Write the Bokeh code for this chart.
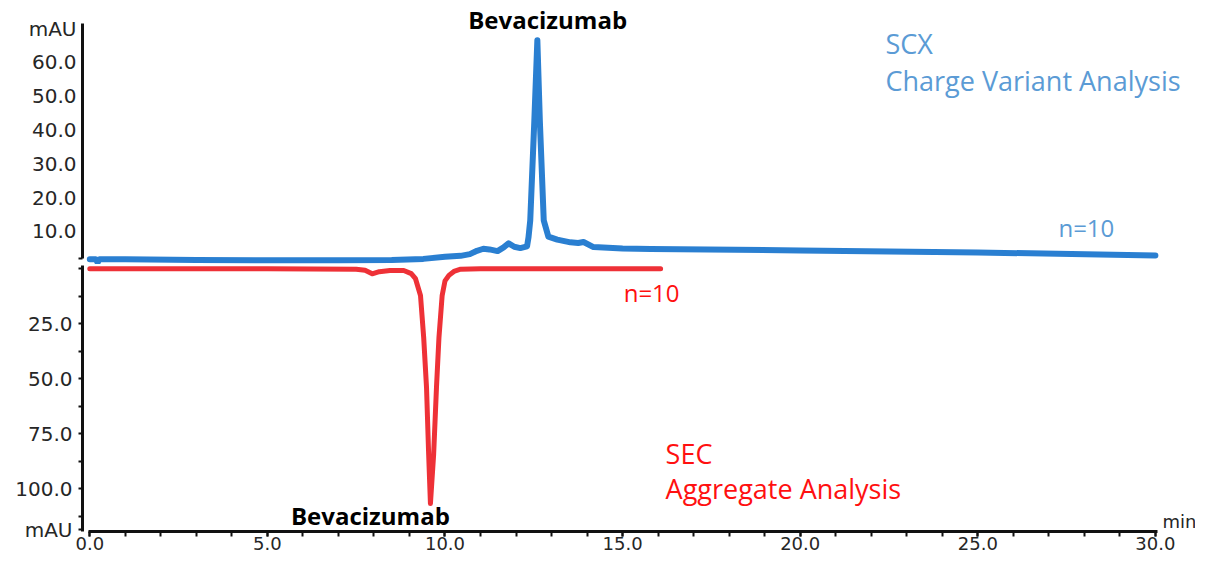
from bokeh.plotting import figure
from bokeh.models import Range1d, LinearAxis, FixedTicker, Label
from bokeh.layouts import column
from bokeh.embed import file_html
from bokeh.resources import INLINE

# ---- data ----
# SCX (top trace), time in min, signal in mAU
scx_time = [0.0, 0.17, 0.22, 0.27, 1.0, 3.0, 5.0, 7.0, 8.5, 9.39, 10.0, 10.44, 10.7, 10.9,
            11.08, 11.25, 11.48, 11.65, 11.79, 11.95, 12.12, 12.31, 12.35, 12.40, 12.515,
            12.60, 12.67, 12.78, 12.91, 13.16, 13.53, 13.75, 13.9, 14.18,
            15.0, 15.79, 20.0, 25.0, 30.0]
scx_mau = [1.8, 1.8, 0.8, 1.8, 1.8, 1.6, 1.5, 1.5, 1.6, 1.9, 2.5, 2.8, 3.3, 4.3,
           4.9, 4.7, 4.2, 5.3, 6.5, 5.5, 5.1, 5.6, 8.2, 13.3, 42.8,
           66.6, 42.8, 13.3, 8.5, 7.6, 6.8, 6.6, 6.9, 5.4,
           5.0, 4.8, 4.4, 3.8, 2.9]

# SEC (bottom trace, drawn downward), time in min, signal in mAU
sec_time = [0.0, 5.0, 7.5, 7.75, 7.95, 8.15, 8.45, 8.84, 9.05, 9.17, 9.31, 9.40, 9.48,
            9.54, 9.59, 9.68, 9.76, 9.83, 9.92, 10.0, 10.11, 10.25, 10.44, 11.0, 16.07]
sec_mau = [0.0, 0.0, 0.2, 0.7, 2.3, 1.3, 0.8, 0.8, 2.2, 4.5, 12.1, 31.2, 54.0,
           84.4, 106.7, 84.4, 54.0, 31.2, 12.1, 5.5, 3.0, 1.2, 0.2, 0.0, 0.0]

x_ticks = [0, 5, 10, 15, 20, 25, 30]
x_tick_labels = ["0.0", "5.0", "10.0", "15.0", "20.0", "25.0", "30.0"]
scx_ticks = [10, 20, 30, 40, 50, 60]
scx_tick_labels = ["10.0", "20.0", "30.0", "40.0", "50.0", "60.0"]
sec_ticks = [25, 50, 75, 100]
sec_tick_labels = ["25.0", "50.0", "75.0", "100.0"]

BLUE_LINE = "#2a7fd1"
RED_LINE = "#ee3137"
BLUE_TEXT = "#5b9bd5"
RED_TEXT = "#ff1010"
AX_COL = "#111111"
LBL_COL = "#262626"
TICK_FONT = "DejaVu Sans"
TEXT_FONT = "Open Sans"

W = 1195
xr = Range1d(-0.2055, 31.129)

# ---------------- top figure (SCX) ----------------
top = figure(width=W, height=264, x_range=xr, y_range=Range1d(0.237, 78.34),
             x_axis_type=None, y_axis_type=None, output_backend="svg",
             toolbar_location=None, min_border_left=82, min_border_right=0,
             min_border_top=0, min_border_bottom=0)
top.outline_line_color = None
top.background_fill_color = "white"

top_mau_pos = 69.8
ov = {t: s for t, s in zip(scx_ticks, scx_tick_labels)}
ov[top_mau_pos] = "mAU"
yax_top = LinearAxis(ticker=FixedTicker(ticks=scx_ticks + [top_mau_pos], minor_ticks=[2.0]),
                     major_label_overrides=ov, bounds=(2.0, 71.5),
                     axis_line_width=3, axis_line_color=AX_COL,
                     major_tick_out=0, major_tick_in=0,
                     minor_tick_out=4, minor_tick_in=0, minor_tick_line_width=2,
                     minor_tick_line_color=AX_COL,
                     major_label_standoff=2,
                     major_label_text_font=TICK_FONT, major_label_text_font_size="20px",
                     major_label_text_color=LBL_COL)
top.add_layout(yax_top, "left")

top.line(scx_time, scx_mau, line_width=6, line_color=BLUE_LINE,
         line_join="round", line_cap="round")

top.add_layout(Label(x=12.89, y=72.8, text="Bevacizumab", text_align="center",
                     text_baseline="alphabetic", text_font=TEXT_FONT,
                     text_font_style="bold", text_font_size="24px", text_color="#000000"))
top.add_layout(Label(x=22.4, y=65.6, text="SCX", text_align="left",
                     text_baseline="alphabetic", text_font=TEXT_FONT,
                     text_font_size="27px", text_color=BLUE_TEXT))
top.add_layout(Label(x=22.4, y=54.7, text="Charge Variant Analysis", text_align="left",
                     text_baseline="alphabetic", text_font=TEXT_FONT,
                     text_font_size="27px", text_color=BLUE_TEXT))
top.add_layout(Label(x=27.27, y=11.3, text="n=10", text_align="left",
                     text_baseline="alphabetic", text_font=TEXT_FONT,
                     text_font_size="24px", text_color=BLUE_TEXT))

# ---------------- bottom figure (SEC) ----------------
bot = figure(width=W, height=293, x_range=xr, y_range=Range1d(119.4, -1.95),
             x_axis_type=None, y_axis_type=None, output_backend="svg",
             toolbar_location=None, min_border_left=82, min_border_right=0,
             min_border_top=0, min_border_bottom=26)
bot.outline_line_color = None
bot.background_fill_color = "white"

bot_mau_pos = 118.6
ov2 = {t: s for t, s in zip(sec_ticks, sec_tick_labels)}
ov2[bot_mau_pos] = "mAU"
yax_bot = LinearAxis(ticker=FixedTicker(ticks=sec_ticks + [bot_mau_pos],
                                        minor_ticks=[0, 12.5, 37.5, 62.5, 87.5, 112.5]),
                     major_label_overrides=ov2, bounds=(-1.5, 119.4),
                     axis_line_width=3, axis_line_color=AX_COL,
                     major_tick_out=4, major_tick_in=0, major_tick_line_width=2,
                     major_tick_line_color=AX_COL,
                     minor_tick_out=4, minor_tick_in=0, minor_tick_line_width=2,
                     minor_tick_line_color=AX_COL,
                     major_label_standoff=6,
                     major_label_text_font=TICK_FONT, major_label_text_font_size="20px",
                     major_label_text_color=LBL_COL)
bot.add_layout(yax_bot, "left")

ov3 = {t: s for t, s in zip(x_ticks, x_tick_labels)}
xax = LinearAxis(ticker=FixedTicker(ticks=x_ticks, minor_ticks=list(range(0, 31))),
                 major_label_overrides=ov3, bounds=(-0.03, 30.05),
                 axis_line_width=3, axis_line_color=AX_COL,
                 major_tick_out=5, major_tick_in=0, major_tick_line_width=2,
                 major_tick_line_color=AX_COL,
                 minor_tick_out=5, minor_tick_in=0, minor_tick_line_width=2,
                 minor_tick_line_color=AX_COL,
                 major_label_standoff=0,
                 major_label_text_font=TICK_FONT, major_label_text_font_size="18px",
                 major_label_text_color=LBL_COL)
bot.add_layout(xax, "below")

bot.line(sec_time, sec_mau, line_width=5, line_color=RED_LINE,
         line_join="round", line_cap="round")

bot.add_layout(Label(x=15.03, y=10.7, text="n=10", text_align="left",
                     text_baseline="alphabetic", text_font=TEXT_FONT,
                     text_font_size="24px", text_color=RED_TEXT))
bot.add_layout(Label(x=16.21, y=84.0, text="SEC", text_align="left",
                     text_baseline="alphabetic", text_font=TEXT_FONT,
                     text_font_size="27px", text_color=RED_TEXT))
bot.add_layout(Label(x=16.21, y=99.8, text="Aggregate Analysis", text_align="left",
                     text_baseline="alphabetic", text_font=TEXT_FONT,
                     text_font_size="27px", text_color=RED_TEXT))
bot.add_layout(Label(x=7.9, y=112.2, text="Bevacizumab", text_align="center",
                     text_baseline="alphabetic", text_font=TEXT_FONT,
                     text_font_style="bold", text_font_size="24px", text_color="#000000"))
bot.add_layout(Label(x=30.2, y=114.9, text="min", text_align="left",
                     text_baseline="alphabetic", text_font=TICK_FONT,
                     text_font_size="18px", text_color=LBL_COL))

layout = column(top, bot, spacing=0)
open("out.html", "w").write(file_html(layout, INLINE))
